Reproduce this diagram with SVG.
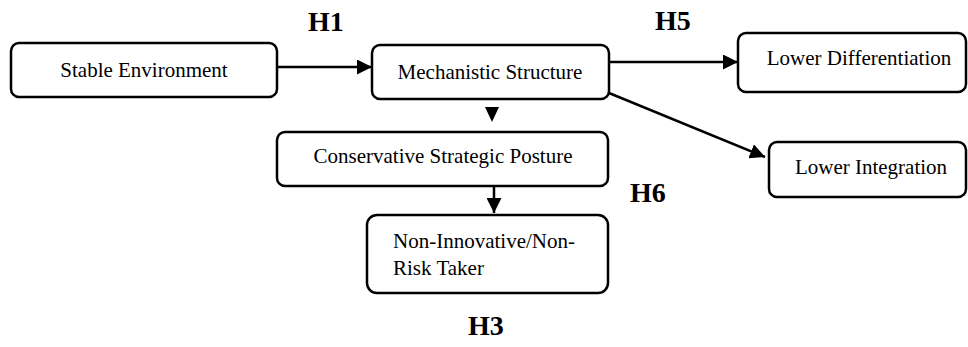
<svg xmlns="http://www.w3.org/2000/svg" width="968" height="347" viewBox="0 0 968 347">
  <defs>
    <marker id="arrow" viewBox="0 0 10 10" refX="10" refY="5" markerWidth="15" markerHeight="15" markerUnits="userSpaceOnUse" orient="auto">
      <path d="M0,0 L10,5 L0,10 z" fill="#000"/>
    </marker>
    <style>
      .box { fill: #fff; stroke: #000; stroke-width: 2.5; }
      .lbl { font-family: "Liberation Serif", "Times New Roman", serif; font-size: 21px; fill: #000; }
      .hyp { font-family: "Liberation Serif", "Times New Roman", serif; font-size: 28px; font-weight: bold; fill: #000; }
      .edge { stroke: #000; stroke-width: 2.5; fill: none; }
    </style>
  </defs>
  <rect width="968" height="347" fill="#fff"/>

  <g id="connectors">
    <line class="edge" x1="277" y1="67" x2="372" y2="67" marker-end="url(#arrow)"/>
    <line class="edge" x1="609" y1="62" x2="738" y2="62" marker-end="url(#arrow)"/>
    <line class="edge" x1="609" y1="93" x2="765" y2="157" marker-end="url(#arrow)"/>
    <path d="M485,107 L499,107 L492,122 z" fill="#000"/>
    <line class="edge" x1="494" y1="186" x2="494" y2="213" marker-end="url(#arrow)"/>
  </g>

  <g id="stable-environment">
    <rect class="box" x="11" y="43" width="266" height="54" rx="8"/>
    <text class="lbl" x="144" y="77" text-anchor="middle">Stable Environment</text>
  </g>
  <g id="mechanistic-structure">
    <rect class="box" x="372" y="45" width="237" height="54" rx="8"/>
    <text class="lbl" x="490" y="79" text-anchor="middle">Mechanistic Structure</text>
  </g>
  <g id="lower-differentiation">
    <rect class="box" x="738" y="33" width="228" height="59" rx="8"/>
    <text class="lbl" x="859" y="65" text-anchor="middle">Lower Differentiation</text>
  </g>
  <g id="lower-integration">
    <rect class="box" x="769" y="142" width="197" height="55" rx="8"/>
    <text class="lbl" x="871" y="174" text-anchor="middle">Lower Integration</text>
  </g>
  <g id="conservative-strategic-posture">
    <rect class="box" x="277" y="132" width="331" height="54" rx="8"/>
    <text class="lbl" x="443" y="163" text-anchor="middle">Conservative Strategic Posture</text>
  </g>
  <g id="non-innovative">
    <rect class="box" x="367" y="215" width="241" height="78" rx="10"/>
    <text class="lbl" x="393" y="248">Non-Innovative/Non-</text>
    <text class="lbl" x="393" y="275">Risk Taker</text>
  </g>

  <g id="hypotheses">
    <text class="hyp" x="308" y="31">H1</text>
    <text class="hyp" x="655" y="30">H5</text>
    <text class="hyp" x="630" y="202">H6</text>
    <text class="hyp" x="468" y="335">H3</text>
  </g>
</svg>
